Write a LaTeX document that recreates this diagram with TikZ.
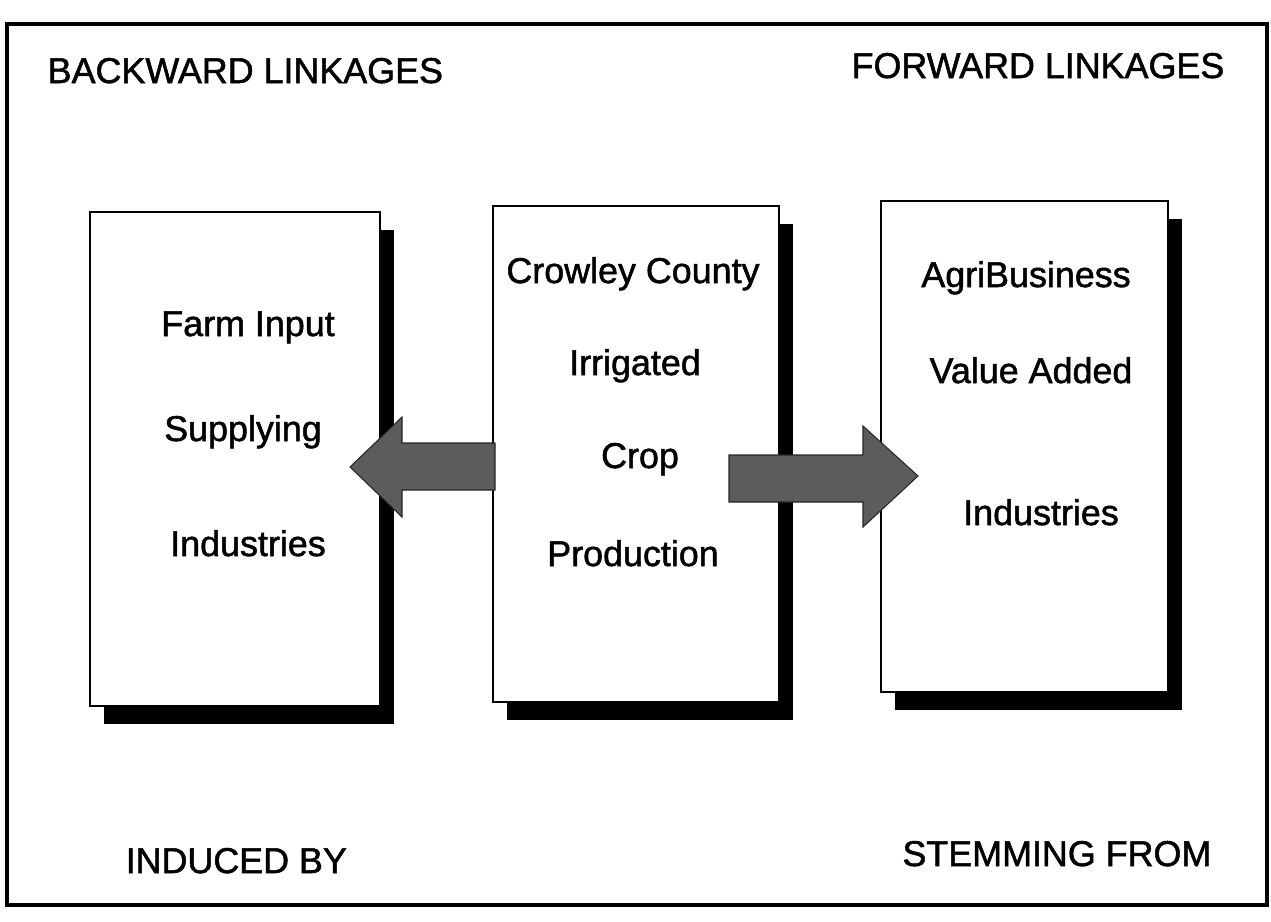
\documentclass[tikz,border=0pt]{standalone}
\usepackage{fontspec}
\setmainfont{Liberation Sans}[BoldFont=Liberation Sans, BoldFeatures={FakeBold=1.4}]
\usepackage{tikz}

\begin{document}
\begin{tikzpicture}[x=0.01cm, y=-0.01cm]
\tikzset{
    panel/.style={draw=black, fill=white, line width=0.8pt},
    blockarrow/.style={fill=black!64, draw=black!85, line width=0.3pt},
    caption/.style={font=\fontsize{10.2}{12}\selectfont\bfseries, inner sep=0pt}
}

\useasboundingbox (0,0) rectangle (1271,921);

\draw[line width=0.9pt] (7,24) rectangle (1267,905);

\node[caption, anchor=base west] (backhead) at (47,83) {BACKWARD LINKAGES};

\node[caption, anchor=base east] (forehead) at (1225,78) {FORWARD LINKAGES};

% the three boxes, shadow first
\fill[black] (104,230) rectangle (394,724);
\draw[panel] (90,212) rectangle (380,706);

\fill[black] (507,224) rectangle (793,720);
\draw[panel] (493,206) rectangle (779,702);

\fill[black] (895,219) rectangle (1182,710);
\draw[panel] (881,201) rectangle (1168,692);

\node[caption, anchor=base] (farm) at (248,336) {Farm Input};
\node[caption, anchor=base] (supply) at (243,441) {Supplying};
\node[caption, anchor=base] (backind) at (248,556) {Industries};

\node[caption, anchor=base] (county) at (633,283) {Crowley County};
\node[caption, anchor=base] (irrig) at (635,375) {Irrigated};
\node[caption, anchor=base] (crop) at (640,468) {Crop};
\node[caption, anchor=base] (prod) at (633,566) {Production};

\node[caption, anchor=base] (agri) at (1026,287) {AgriBusiness};
\node[caption, anchor=base] (value) at (1031,383) {Value Added};
\node[caption, anchor=base] (foreind) at (1041,525) {Industries};

% block arrows
\draw[blockarrow] (495,443) -- (402,443) -- (402,417) -- (350,467)
    -- (402,517) -- (402,490) -- (495,490) -- cycle;

\draw[blockarrow] (729,455) -- (863,455) -- (863,426) -- (918,476)
    -- (863,527) -- (863,502) -- (729,502) -- cycle;

\node[caption, anchor=base west] (induced) at (125,873) {INDUCED BY};

\node[caption, anchor=base east] (stem) at (1212,866) {STEMMING FROM};

\end{tikzpicture}
\end{document}
